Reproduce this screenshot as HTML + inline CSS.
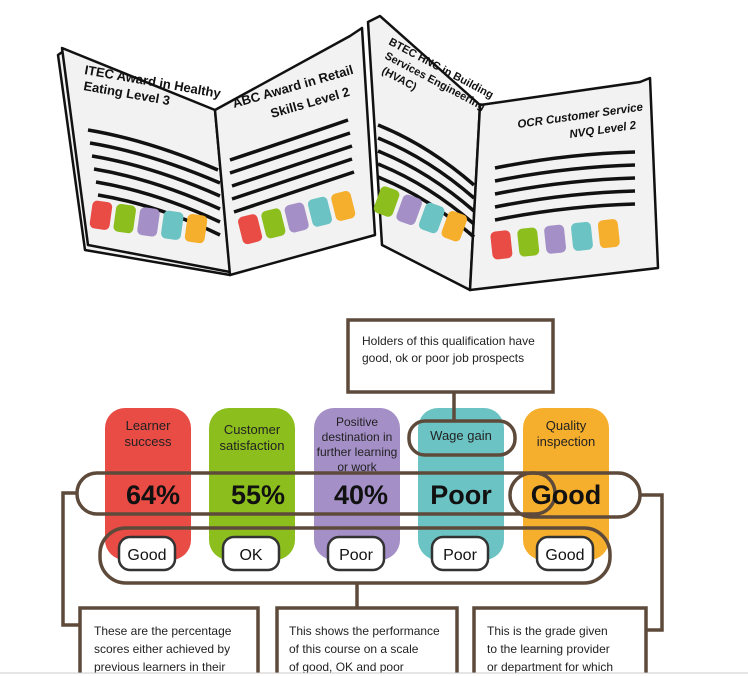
<!DOCTYPE html>
<html><head><meta charset="utf-8"><style>
body{margin:0;background:#fff;width:748px;height:676px;overflow:hidden;position:relative;font-family:"Liberation Sans",sans-serif}
</style></head><body>
<svg width="748" height="676" style="position:absolute;left:0;top:0" font-family="Liberation Sans, sans-serif">
<g stroke="#111" stroke-width="2.5" fill="#f2f2f2" stroke-linejoin="round">
<polygon points="58,55 65,50 215,112 230,275 85,250"/>
<polygon points="62,48 215,110 230,272 88,245"/>
<polygon points="215,110 350,36 362,28 375,235 230,275"/>
<polygon points="368,22 380,16 480,105 470,290 382,245"/>
<polygon points="480,105 640,82 650,78 658,268 470,290"/>
</g>
<g stroke="#111" stroke-width="3.5" fill="none">
<path d="M88,130 q60,10 130,40 M90,143 q60,10 130,40 M92,156 q60,10 128,40 M94,169 q60,10 126,40 M96,182 q60,10 124,40 M98,195 q60,10 122,40"/>
<path d="M230,160 q60,-20 118,-40 M230,173 q60,-20 120,-40 M232,186 q60,-20 120,-40 M232,199 q60,-20 120,-40 M234,212 q60,-20 120,-40"/>
<path d="M378,125 q50,20 96,60 M378,138 q50,20 96,60 M378,151 q50,20 96,60 M378,164 q50,20 96,60 M378,177 q50,20 96,60"/>
<path d="M495,168 q70,-14 140,-16 M495,181 q70,-14 140,-16 M495,194 q70,-14 140,-16 M495,207 q70,-14 140,-16 M495,220 q70,-14 140,-16"/>
</g>
<g font-weight="bold" fill="#111" font-size="13">
<text transform="translate(84,74) rotate(10)">ITEC Award in Healthy</text>
<text transform="translate(83,90) rotate(10)">Eating Level 3</text>
<text transform="translate(234,108) rotate(-16)">ABC Award in Retail</text>
<text transform="translate(272,118) rotate(-16)">Skills Level 2</text>
<text transform="translate(388,44) rotate(28)" font-size="11">BTEC HNC in Building</text>
<text transform="translate(384,58) rotate(28)" font-size="11">Services Engineering</text>
<text transform="translate(381,73) rotate(28)" font-size="11">(HVAC)</text>
<text transform="translate(518,128) rotate(-8)" font-style="italic" font-size="11.5">OCR Customer Service</text>
<text transform="translate(570,138) rotate(-8)" font-style="italic" font-size="11.5">NVQ Level 2</text>
</g>
<g>
<g transform="translate(93,200) rotate(8)"><rect width="20" height="28" rx="5" fill="#e94b45"/><rect x="24" width="20" height="28" rx="5" fill="#8cbf1d"/><rect x="48" width="20" height="28" rx="5" fill="#a48fc7"/><rect x="72" width="20" height="28" rx="5" fill="#6cc3c3"/><rect x="96" width="20" height="28" rx="5" fill="#f6ae2d"/></g>
<g transform="translate(237,218) rotate(-14)"><rect width="20" height="28" rx="5" fill="#e94b45"/><rect x="24" width="20" height="28" rx="5" fill="#8cbf1d"/><rect x="48" width="20" height="28" rx="5" fill="#a48fc7"/><rect x="72" width="20" height="28" rx="5" fill="#6cc3c3"/><rect x="96" width="20" height="28" rx="5" fill="#f6ae2d"/></g>
<g transform="translate(382,185) rotate(20)"><rect width="20" height="28" rx="5" fill="#8cbf1d"/><rect x="24" width="20" height="28" rx="5" fill="#a48fc7"/><rect x="48" width="20" height="28" rx="5" fill="#6cc3c3"/><rect x="72" width="20" height="28" rx="5" fill="#f6ae2d"/></g>
<g transform="translate(490,232) rotate(-6)"><rect width="20" height="28" rx="5" fill="#e94b45"/><rect x="27" width="20" height="28" rx="5" fill="#8cbf1d"/><rect x="54" width="20" height="28" rx="5" fill="#a48fc7"/><rect x="81" width="20" height="28" rx="5" fill="#6cc3c3"/><rect x="108" width="20" height="28" rx="5" fill="#f6ae2d"/></g>
</g>

<g>
<rect x="105" y="408" width="86" height="152" rx="20" fill="#e94b45"/>
<rect x="209" y="408" width="86" height="152" rx="20" fill="#8cbf1d"/>
<rect x="314" y="408" width="86" height="152" rx="20" fill="#a48fc7"/>
<rect x="418" y="408" width="86" height="152" rx="20" fill="#6cc3c3"/>
<rect x="523" y="408" width="86" height="152" rx="20" fill="#f6ae2d"/>
</g>
<g fill="none" stroke="#5e4a3a" stroke-width="3.5">
<rect x="348" y="320" width="205" height="72"/>
<path d="M454,392 V420"/>
<rect x="409" y="421" width="106" height="34" rx="16"/>
<rect x="77" y="473" width="478" height="41" rx="20"/>
<rect x="510" y="473" width="130" height="44" rx="22"/>
<rect x="100" y="528" width="510" height="55" rx="26"/>
<path d="M77,493 H63 V625 H80"/>
<path d="M640,495 H662 V630 H647"/>
<path d="M357,583 V608"/>
<rect x="80" y="608" width="178" height="80"/>
<rect x="277" y="608" width="180" height="80"/>
<rect x="474" y="608" width="172" height="80"/>
</g>
<g fill="#fff" stroke="#333" stroke-width="2.5">
<rect x="119" y="537" width="56" height="33" rx="11"/>
<rect x="223" y="537" width="56" height="33" rx="11"/>
<rect x="328" y="537" width="56" height="33" rx="11"/>
<rect x="432" y="537" width="56" height="33" rx="11"/>
<rect x="537" y="537" width="56" height="33" rx="11"/>
</g>
<g font-size="16" fill="#111" text-anchor="middle">
<text x="147" y="560">Good</text><text x="251" y="560">OK</text><text x="356" y="560">Poor</text><text x="460" y="560">Poor</text><text x="565" y="560">Good</text>
</g>
<g font-size="13" fill="#222" text-anchor="middle">
<text x="148" y="430">Learner</text><text x="148" y="446">success</text>
<text x="252" y="434">Customer</text><text x="252" y="450">satisfaction</text>
<text x="357" y="426" font-size="12">Positive</text><text x="357" y="441" font-size="12">destination in</text><text x="357" y="456" font-size="12">further learning</text><text x="357" y="471" font-size="12">or work</text>
<text x="461" y="440">Wage gain</text>
<text x="566" y="430">Quality</text><text x="566" y="446">inspection</text>
</g>
<g font-size="27" font-weight="bold" fill="#111" text-anchor="middle">
<text x="153" y="504">64%</text><text x="258" y="504">55%</text><text x="361" y="504">40%</text><text x="461" y="504">Poor</text><text x="566" y="504">Good</text>
</g>
<g font-size="12" fill="#222">
<text x="362" y="345">Holders of this qualification have</text>
<text x="362" y="362">good, ok or poor job prospects</text>
<text x="94" y="635">These are the percentage</text>
<text x="94" y="653">scores either achieved by</text>
<text x="94" y="671">previous learners in their</text>
<text x="289" y="635">This shows the performance</text>
<text x="289" y="653">of this course on a scale</text>
<text x="289" y="671">of good, OK and poor</text>
<text x="487" y="635">This is the grade given</text>
<text x="487" y="653">to the learning provider</text>
<text x="487" y="671">or department for which</text>
</g>
<rect x="0" y="673" width="748" height="3" fill="#fff"/>
<line x1="0" y1="673" x2="748" y2="673" stroke="#ccc" stroke-width="1"/>
</svg>
</body></html>
